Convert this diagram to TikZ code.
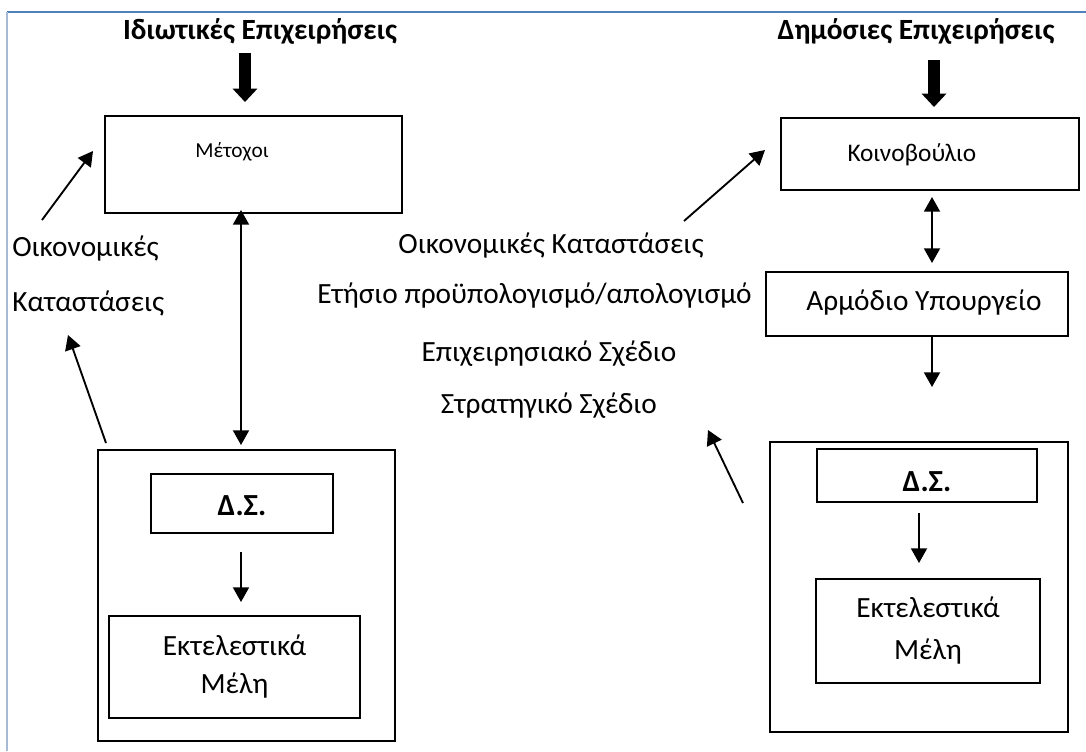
\documentclass[tikz,border=0pt]{standalone}
\usepackage{fontspec}
\setmainfont{Carlito}
\usetikzlibrary{arrows.meta}
\definecolor{frametop}{HTML}{4F81BD}
\definecolor{frameleft}{HTML}{A7BAD6}
\begin{document}
\begin{tikzpicture}[x=0.75pt,y=-0.75pt,
  txt/.style={inner sep=0pt, font=\fontsize{22}{26}\selectfont},
  ttl/.style={inner sep=0pt, font=\fontsize{22}{26}\selectfont\bfseries},
  dsfont/.style={inner sep=0pt, font=\fontsize{23}{27}\selectfont\bfseries},
  outerbox/.style={draw, line width=1.5pt, rectangle, inner sep=0pt},
  innerbox/.style={draw, line width=0.9pt, rectangle, inner sep=0pt},
  arr/.style={line width=1.4pt, -{Triangle[width=12pt,length=11pt]}},
  darr/.style={line width=1.4pt, {Triangle[width=12pt,length=11pt]}-{Triangle[width=12pt,length=11pt]}},
  bigarr/.style={line width=8.5pt, -{Triangle[width=18pt,length=10pt]}},
]
\useasboundingbox (0,0) rectangle (1086,751);
\fill[white] (0,0) rectangle (1086,751);

% page frame
\draw[frametop, line width=1pt] (7,12) -- (1086,12);
\draw[frameleft, line width=1.6pt] (7,12) -- (7,751);

% ---------- private enterprises ----------
\node[ttl] (tL) at (260,31) {Ιδιωτικές Επιχειρήσεις};
\node[outerbox, minimum width=297*0.75pt, minimum height=97*0.75pt] (metL) at (253.5,164.5) {};
\node[inner sep=0pt, font=\fontsize{16}{19}\selectfont] (metT) at (232,152) {Μέτοχοι};
\node[outerbox, minimum width=297*0.75pt, minimum height=291*0.75pt] (outL) at (246.5,595.5) {};
\node[innerbox, minimum width=182*0.75pt, minimum height=59*0.75pt] (dsL) at (242,503.5) {};
\node[dsfont] (dsLT) at (242,506) {Δ.Σ.};
\node[innerbox, minimum width=251*0.75pt, minimum height=102*0.75pt, align=center,
      font=\fontsize{22}{28.5}\selectfont] (exL) at (234.5,667) {Εκτελεστικά\\Μέλη};
\node[txt, anchor=west] (okL) at (12,249) {Οικονομικές};
\node[txt, anchor=west] (kaL) at (12,303) {Καταστάσεις};

\coordinate (tLs) at (245,53);
\coordinate (tLe) at (245,102);
\draw[bigarr] (tLs) -- (tLe);
\coordinate (dL1) at (241,210);
\coordinate (dL2) at (241,445);
\draw[darr] (dL1) -- (dL2);
\coordinate (dLs) at (241,552);
\coordinate (dLe) at (241,602);
\draw[arr] (dLs) -- (dLe);
\coordinate (a1s) at (42,220);
\coordinate (a1e) at (93,151);
\draw[arr] (a1s) -- (a1e);
\coordinate (a2s) at (106,443);
\coordinate (a2e) at (68,335);
\draw[arr] (a2s) -- (a2e);

% ---------- public enterprises ----------
\node[ttl] (tR) at (916,31) {Δημόσιες Επιχειρήσεις};
\node[outerbox, minimum width=298*0.75pt, minimum height=72*0.75pt] (koin) at (930,154) {};
\node[inner sep=0pt, font=\fontsize{19}{23}\selectfont] (koinT) at (912,155) {Κοινοβούλιο};
\node[outerbox, minimum width=302*0.75pt, minimum height=64*0.75pt] (arm) at (917,304) {};
\node[txt] (armT) at (924,303) {Αρμόδιο Υπουργείο};
\node[outerbox, minimum width=298*0.75pt, minimum height=290*0.75pt] (outR) at (919,587) {};
\node[innerbox, minimum width=220*0.75pt, minimum height=53*0.75pt] (dsR) at (927,475.5) {};
\node[dsfont] (dsRT) at (927,482) {Δ.Σ.};
\node[innerbox, minimum width=224*0.75pt, minimum height=104*0.75pt, align=center,
      font=\fontsize{22}{31.5}\selectfont] (exR) at (928,631) {Εκτελεστικά\\Μέλη};

\node[txt] (okR) at (551,246) {Οικονομικές Καταστάσεις};
\node[txt, anchor=east] (etR) at (752,296) {Ετήσιο προϋπολογισμό/απολογισμό};
\node[txt] (epR) at (549,354) {Επιχειρησιακό Σχέδιο};
\node[txt] (stR) at (549,406) {Στρατηγικό Σχέδιο};

\coordinate (tRs) at (934,60);
\coordinate (tRe) at (934,107);
\draw[bigarr] (tRs) -- (tRe);
\coordinate (dR1) at (932,197);
\coordinate (dR2) at (932,263);
\draw[darr] (dR1) -- (dR2);
\coordinate (aRs) at (932,336);
\coordinate (aRe) at (932,387);
\draw[arr] (aRs) -- (aRe);
\coordinate (eRs) at (919,513);
\coordinate (eRe) at (919,563);
\draw[arr] (eRs) -- (eRe);
\coordinate (b1s) at (684,221);
\coordinate (b1e) at (765,150);
\draw[arr] (b1s) -- (b1e);
\coordinate (b2s) at (743,503);
\coordinate (b2e) at (708,430);
\draw[arr] (b2s) -- (b2e);
\end{tikzpicture}
\end{document}
